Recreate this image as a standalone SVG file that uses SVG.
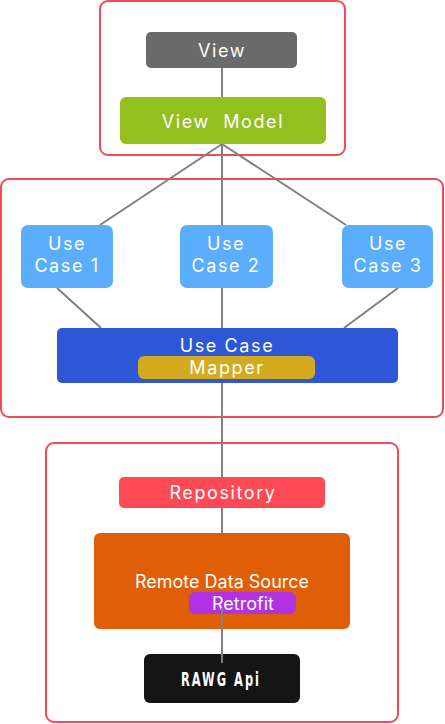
<svg xmlns="http://www.w3.org/2000/svg" width="445" height="724" viewBox="0 0 445 724">
<style>
.frame{fill:#fff;stroke:#f24b55;stroke-width:2}
.lbl{font-family:Inter,"Liberation Sans",sans-serif;font-size:18px;fill:#fff;text-anchor:middle;letter-spacing:1.6px}
.plain{letter-spacing:0}
.conn{stroke:#808080;stroke-width:2;fill:none}
.raw{font-family:"DejaVu Sans Condensed","DejaVu Sans",sans-serif;font-stretch:condensed;font-weight:bold;font-size:19px;fill:#fff;text-anchor:middle;letter-spacing:3px}
</style>
<g id="layers">
<rect id="presentation-layer" class="frame" x="100" y="1" width="245" height="154" rx="8"/>
<rect id="domain-layer" class="frame" x="1" y="179" width="442" height="238" rx="8"/>
<rect id="data-layer" class="frame" x="46" y="443" width="352" height="279" rx="8"/>
</g>
<g id="connectors-back">
<line class="conn" x1="222" y1="68" x2="222" y2="97"/>
<line class="conn" x1="222" y1="144" x2="100" y2="225"/>
<line class="conn" x1="222" y1="144" x2="222" y2="225"/>
<line class="conn" x1="222" y1="144" x2="346" y2="225"/>
<line class="conn" x1="57" y1="288" x2="101" y2="328"/>
<line class="conn" x1="222" y1="288" x2="222" y2="328"/>
<line class="conn" x1="398" y1="288" x2="344" y2="328"/>
<line class="conn" x1="222" y1="379" x2="222" y2="533"/>
</g>
<g id="view">
<rect x="146" y="32" width="151" height="36" rx="5" fill="#6a6a6a"/>
<text class="lbl" x="222" y="57">View</text>
</g>
<g id="view-model">
<rect x="120" y="97" width="206" height="47" rx="6" fill="#93c01f"/>
<text class="lbl" x="223" y="128" xml:space="preserve" style="white-space:pre">View  Model</text>
</g>
<g id="use-case-1">
<rect x="21" y="225" width="92" height="63" rx="7" fill="#5aaefc"/>
<text class="lbl" x="67" y="250">Use</text>
<text class="lbl" x="67" y="272">Case 1</text>
</g>
<g id="use-case-2">
<rect x="180" y="225" width="93" height="63" rx="7" fill="#5aaefc"/>
<text class="lbl" x="226" y="250">Use</text>
<text class="lbl" x="226" y="272">Case 2</text>
</g>
<g id="use-case-3">
<rect x="342" y="225" width="91" height="63" rx="7" fill="#5aaefc"/>
<text class="lbl" x="388" y="250">Use</text>
<text class="lbl" x="388" y="272">Case 3</text>
</g>
<g id="use-case">
<rect x="57" y="328" width="341" height="55" rx="5" fill="#2d57d6"/>
<text class="lbl" x="227" y="352">Use Case</text>
</g>
<g id="mapper">
<rect x="138" y="356" width="177" height="23" rx="6" fill="#d4aa1e"/>
<text class="lbl" x="227" y="374">Mapper</text>
</g>
<g id="repository">
<rect x="119" y="477" width="206" height="31" rx="5" fill="#fd4a55"/>
<text class="lbl" x="223" y="499">Repository</text>
</g>
<g id="remote-data-source">
<rect x="94" y="533" width="256" height="96" rx="6" fill="#e05e07"/>
<text class="lbl plain" x="222" y="588">Remote Data Source</text>
</g>
<g id="retrofit">
<rect x="189" y="592" width="107" height="22" rx="6" fill="#b132e4"/>
<text class="lbl plain" x="243" y="610">Retrofit</text>
</g>
<g id="rawg-api">
<rect x="144" y="654" width="156" height="49" rx="6" fill="#151515"/>
<text class="raw" x="221" y="686" textLength="80" lengthAdjust="spacingAndGlyphs">RAWG Api</text>
</g>
<g id="connectors">
<line class="conn" x1="222" y1="608" x2="222" y2="663"/>
</g>
</svg>
